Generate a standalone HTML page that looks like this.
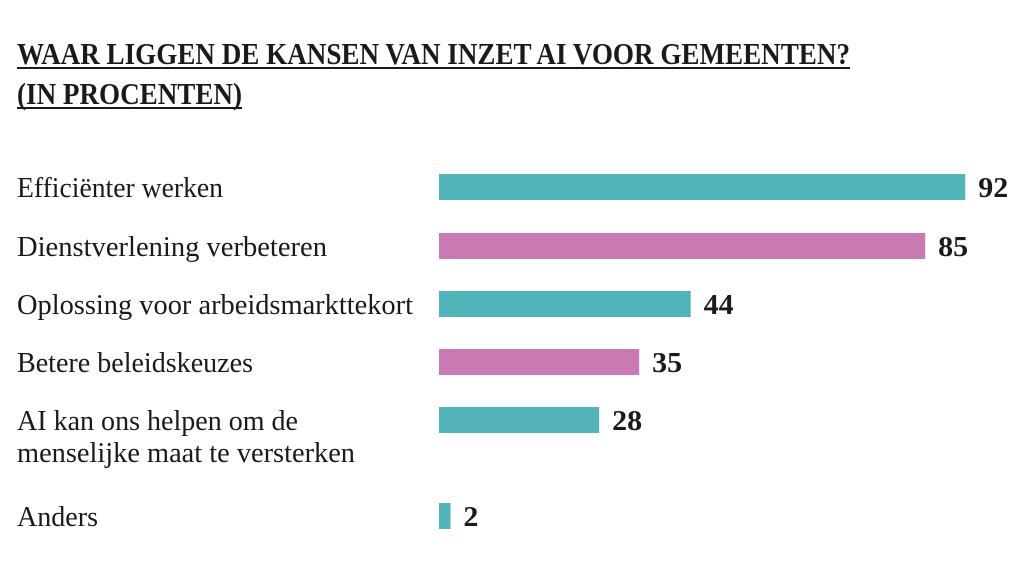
<!DOCTYPE html>
<html><head><meta charset="utf-8"><style>
html,body{margin:0;padding:0;background:#fff;}
svg{display:block;}
text{font-family:"Liberation Serif",serif;fill:#1a1a1a;}
</style></head><body>
<svg width="1030" height="580" viewBox="0 0 1030 580">
<g>
<text x="17" y="64" font-size="31" font-weight="bold" textLength="833" lengthAdjust="spacingAndGlyphs">WAAR LIGGEN DE KANSEN VAN INZET AI VOOR GEMEENTEN?</text>
<rect x="17" y="67" width="833" height="2" fill="#1a1a1a"/>
<text x="17" y="104" font-size="31" font-weight="bold" textLength="225" lengthAdjust="spacingAndGlyphs">(IN PROCENTEN)</text>
<rect x="17" y="107" width="225" height="2" fill="#1a1a1a"/>
</g>
<g id="bars"></g>
</svg>
<script>
const categories=[["Efficiënter werken"],["Dienstverlening verbeteren"],["Oplossing voor arbeidsmarkttekort"],["Betere beleidskeuzes"],["AI kan ons helpen om de","menselijke maat te versterken"],["Anders"]];
const values=[92,85,44,35,28,2];
const labelWidths=[[206],[310],[396],[236],[281,338],[81]];
const rowCenters=[187,246,304,362,420,516];
const colors=["#52b3b9","#c97ab2","#52b3b9","#c97ab2","#52b3b9","#52b3b9"];
const NS="http://www.w3.org/2000/svg";
const x0=439, unit=5.72, barH=26;
function xs(v){return v*unit;}
const g=document.getElementById('bars');
values.forEach((v,i)=>{
  const cy=rowCenters[i];
  const r=document.createElementNS(NS,'rect');
  r.setAttribute('x',x0);r.setAttribute('y',cy-barH/2);
  r.setAttribute('width',xs(v));r.setAttribute('height',barH);
  r.setAttribute('fill',colors[i]);
  
  
  g.appendChild(r);
  const t=document.createElementNS(NS,'text');
  t.setAttribute('x',x0+xs(v)+13);t.setAttribute('y',cy+10);
  t.setAttribute('font-size','29');t.setAttribute('font-weight','bold');
  t.setAttribute('textLength',String(v).length*15);
  t.setAttribute('lengthAdjust','spacingAndGlyphs');
  t.textContent=v;
  
  
  g.appendChild(t);
  categories[i].forEach((line,j)=>{
    const l=document.createElementNS(NS,'text');
    l.setAttribute('x',17);l.setAttribute('y',cy+10+j*32);
    l.setAttribute('font-size','29');
    l.setAttribute('textLength',labelWidths[i][j]);
    l.setAttribute('lengthAdjust','spacingAndGlyphs');
    l.textContent=line;
    
    
    g.appendChild(l);
  });
});
</script>
</body></html>
